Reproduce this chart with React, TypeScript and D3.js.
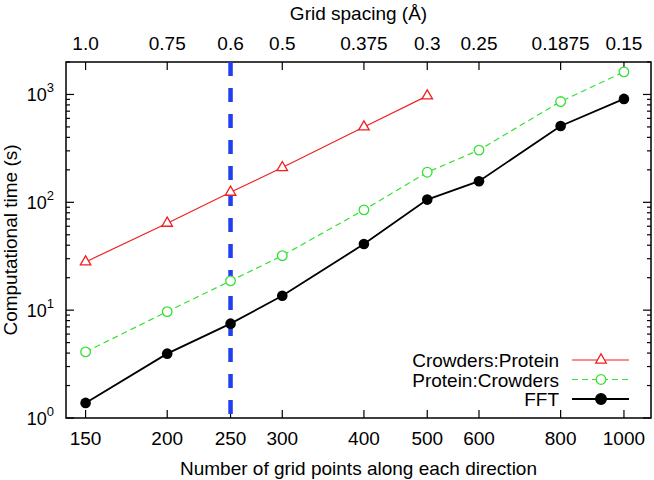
import React, { useEffect, useRef } from "react";
import * as d3 from "d3";

// grid points along each direction
const gridPoints = [150, 200, 250, 300, 400, 500, 600, 800, 1000];
// top axis labels: grid spacing (Å) matching each grid point
const spacingLabels = ["1.0", "0.75", "0.6", "0.5", "0.375", "0.3", "0.25", "0.1875", "0.15"];

const crowdersProtein = [28, 64, 124, 210, 500, 970];
const proteinCrowders = [4.1, 9.7, 18.7, 32, 85, 190, 305, 860, 1620];
const fft = [1.38, 3.95, 7.5, 13.6, 41, 106, 157, 510, 910];

const markedPoint = 250;

const App: React.FC = () => {
  const chartRef = useRef<SVGSVGElement | null>(null);

  useEffect(() => {
    const W = 654,
      H = 480;
    const margin = { top: 62, right: 3, bottom: 62, left: 66 };
    const width = W - margin.left - margin.right,
      height = H - margin.top - margin.bottom;
    const fs = 19;

    const root = d3.select(chartRef.current);
    root.selectAll("*").remove();
    root.attr("font-family", "'Liberation Sans', Arial, sans-serif");

    const svg = root.append("g").attr("transform", `translate(${margin.left},${margin.top})`);

    const x = d3.scaleLog().domain([140, 1100]).range([0, width]);
    const y = d3.scaleLog().domain([1, 2000]).range([height, 0]);

    // ticks along x (bottom + top), inward
    gridPoints.forEach((g, i) => {
      svg.append("line").attr("x1", x(g)).attr("x2", x(g)).attr("y1", height).attr("y2", height - 8)
        .attr("stroke", "#000").attr("stroke-width", 1.2);
      svg.append("line").attr("x1", x(g)).attr("x2", x(g)).attr("y1", 0).attr("y2", 8)
        .attr("stroke", "#000").attr("stroke-width", 1.2);
      svg.append("text").attr("x", x(g)).attr("y", height + 27).attr("text-anchor", "middle")
        .attr("font-size", fs).text(g);
      svg.append("text").attr("x", x(g)).attr("y", -12).attr("text-anchor", "middle")
        .attr("font-size", fs).text(spacingLabels[i]);
    });

    // y ticks, major + minor, both sides
    const yTicks: number[] = [];
    for (let e = 0; e <= 3; e++) {
      for (let m = 1; m <= 9; m++) {
        const v = m * Math.pow(10, e);
        if (v <= 2000) yTicks.push(v);
      }
    }
    yTicks.forEach((v) => {
      const major = Math.abs(Math.log10(v) - Math.round(Math.log10(v))) < 1e-9;
      const len = major ? 8 : 4;
      svg.append("line").attr("x1", 0).attr("x2", len).attr("y1", y(v)).attr("y2", y(v))
        .attr("stroke", "#000").attr("stroke-width", 1.2);
      svg.append("line").attr("x1", width).attr("x2", width - len).attr("y1", y(v)).attr("y2", y(v))
        .attr("stroke", "#000").attr("stroke-width", 1.2);
      if (major) {
        const t = svg.append("text").attr("x", -12).attr("y", y(v) + 7).attr("text-anchor", "end")
          .attr("font-size", 18);
        t.append("tspan").text("10");
        t.append("tspan").attr("dy", -9).attr("font-size", 13).text(Math.round(Math.log10(v)));
      }
    });

    // frame
    svg.append("rect").attr("width", width).attr("height", height)
      .attr("fill", "none").attr("stroke", "#000").attr("stroke-width", 1.5);

    // axis titles
    svg.append("text").attr("x", width / 2).attr("y", height + 57).attr("text-anchor", "middle")
      .attr("font-size", fs).text("Number of grid points along each direction");
    svg.append("text").attr("x", width / 2).attr("y", -42).attr("text-anchor", "middle")
      .attr("font-size", fs).text("Grid spacing (Å)");
    svg.append("text").attr("transform", `translate(${-49},${height / 2}) rotate(-90)`)
      .attr("text-anchor", "middle").attr("font-size", fs).text("Computational time (s)");

    // vertical blue dashed marker
    svg.append("line").attr("x1", x(markedPoint)).attr("x2", x(markedPoint))
      .attr("y1", 0).attr("y2", height)
      .attr("stroke", "#1f3ff0").attr("stroke-width", 4.5).attr("stroke-dasharray", "14,12");

    const line = d3.line<number>().x((_, i) => x(gridPoints[i])).y((d) => y(d));

    const tri = d3.symbol().type(d3.symbolTriangle).size(48);

    // Crowders:Protein
    svg.append("path").datum(crowdersProtein).attr("d", line).attr("fill", "none")
      .attr("stroke", "#f02020").attr("stroke-width", 1.2);
    svg.selectAll(".tri").data(crowdersProtein).enter().append("path")
      .attr("d", tri).attr("transform", (d, i) => `translate(${x(gridPoints[i])},${y(d)})`)
      .attr("fill", "#fff").attr("stroke", "#f02020").attr("stroke-width", 1.3);

    // Protein:Crowders
    svg.append("path").datum(proteinCrowders).attr("d", line).attr("fill", "none")
      .attr("stroke", "#33e033").attr("stroke-width", 1.2).attr("stroke-dasharray", "6,4");
    svg.selectAll(".circ").data(proteinCrowders).enter().append("circle")
      .attr("cx", (_, i) => x(gridPoints[i])).attr("cy", (d) => y(d)).attr("r", 4.8)
      .attr("fill", "#fff").attr("stroke", "#33e033").attr("stroke-width", 1.3);

    // FFT
    svg.append("path").datum(fft).attr("d", line).attr("fill", "none")
      .attr("stroke", "#000").attr("stroke-width", 1.8);
    svg.selectAll(".dot").data(fft).enter().append("circle")
      .attr("cx", (_, i) => x(gridPoints[i])).attr("cy", (d) => y(d)).attr("r", 5.3)
      .attr("fill", "#000");

    // legend
    const legend = [
      { name: "Crowders:Protein", color: "#f02020", dash: null, mark: "tri" },
      { name: "Protein:Crowders", color: "#33e033", dash: "6,4", mark: "open" },
      { name: "FFT", color: "#000", dash: null, mark: "dot" },
    ];
    const lx = 572 - margin.left,
      ly = 360 - margin.top;
    legend.forEach((l, i) => {
      const yy = ly + i * 19.5;
      svg.append("text").attr("x", lx - 13).attr("y", yy + 7).attr("text-anchor", "end")
        .attr("font-size", fs).text(l.name);
      svg.append("line").attr("x1", lx).attr("x2", lx + 57).attr("y1", yy).attr("y2", yy)
        .attr("stroke", l.color).attr("stroke-width", l.mark === "dot" ? 1.8 : 1.2)
        .attr("stroke-dasharray", l.dash);
      if (l.mark === "tri") {
        svg.append("path").attr("d", tri).attr("transform", `translate(${lx + 29},${yy})`)
          .attr("fill", "#fff").attr("stroke", l.color).attr("stroke-width", 1.3);
      } else {
        svg.append("circle").attr("cx", lx + 29).attr("cy", yy).attr("r", l.mark === "dot" ? 5.3 : 4.8)
          .attr("fill", l.mark === "dot" ? "#000" : "#fff").attr("stroke", l.color)
          .attr("stroke-width", 1.3);
      }
    });
  }, []);

  return (
    <div>
      <svg ref={chartRef} width={654} height={480} style={{ position: "absolute", left: 0, top: 0, background: "#fff" }} />
    </div>
  );
};

export default App;
